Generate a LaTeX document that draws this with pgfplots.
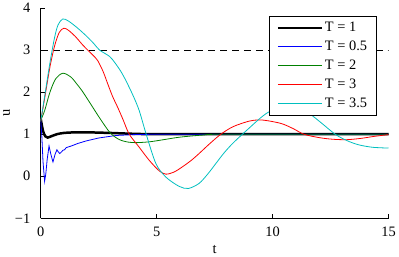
\documentclass[border=0pt]{standalone}
\usepackage{fontspec}
\setmainfont{Liberation Serif}
\usepackage{pgfplots}
\pgfplotsset{compat=1.18}
\definecolor{mgreen}{rgb}{0,0.5,0}
\definecolor{mcyan}{rgb}{0,0.75,0.75}
\begin{document}
\begin{tikzpicture}[font=\fontsize{14.5}{17}\selectfont]
\begin{axis}[
  scale only axis,
  width=349bp, height=211bp,
  xmin=0, xmax=15, ymin=-1, ymax=4,
  axis x line*=bottom, axis y line*=left,
  axis line style={black, line width=0.6bp},
  tick align=inside,
  major tick length=4bp,
  tick style={black, line width=0.6bp},
  xtick={0,5,10,15}, xticklabels={0,5,10,15},
  ytick={-1,0,1,2,3,4}, yticklabels={−1,0,1,2,3,4},
  xticklabel style={yshift=-5bp},
  yticklabel style={xshift=-7bp},
  xlabel={t}, ylabel={u},
  xlabel style={yshift=-2bp},
  ylabel style={yshift=-2bp},
  legend cell align=left,
  legend style={at={(0.965,0.962)}, anchor=north east,
    draw=black, line width=0.6bp, fill=white, inner xsep=7bp, inner ysep=4bp, row sep=4bp,
    font=\fontsize{14.5}{17}\selectfont},
  legend image code/.code={\draw[#1] (0bp,0bp) -- (44bp,0bp);},
  clip=true,
]
\addplot[black, dashed, line width=0.6bp, dash pattern=on 7bp off 5bp, forget plot] coordinates {(0,3) (15,3)};
\addplot[black, line width=2.5bp, smooth] coordinates {
(0,1.37) (0.1,1.08) (0.2,0.95) (0.3,0.92) (0.45,0.95) (0.7,1.0) (1,1.03) (1.5,1.045) (2,1.045) (3,1.03) (4,1.01) (5,1.0) (8,1.0) (15,1.0)};
\addlegendentry{T = 1}
\addplot[blue, line width=0.8bp] coordinates {
(0,1.35) (0.05,0.95) (0.1,0.35) (0.17,-0.12) (0.22,0.05) (0.28,0.4) (0.36,0.72) (0.44,0.52) (0.53,0.34) (0.62,0.52) (0.7,0.63) (0.76,0.58) (0.82,0.54) (0.9,0.58) (0.96,0.62) (1.03,0.63) (1.1,0.68) (1.32,0.72) (1.6,0.78) (1.96,0.84) (2.5,0.91) (3.25,0.97) (4,0.99) (5,1.0) (15,1.0)};
\addlegendentry{T = 0.5}
\addplot[mgreen, line width=0.8bp, smooth] coordinates {
(0,1.33) (0.17,1.56) (0.4,2.0) (0.65,2.32) (0.96,2.45) (1.3,2.36) (1.55,2.2) (1.8,2.02) (2.2,1.68) (2.55,1.38) (3.0,1.03) (3.4,0.87) (3.8,0.81) (4.15,0.8) (4.7,0.82) (5.3,0.87) (6,0.93) (7,0.98) (8,1.0) (15,1.0)};
\addlegendentry{T = 2}
\addplot[red, line width=0.8bp, smooth] coordinates {
(0,1.3) (0.2,1.95) (0.4,2.6) (0.6,3.1) (0.8,3.42) (1.0,3.52) (1.2,3.47) (1.5,3.32) (1.8,3.13) (2.03,3.0) (2.25,2.88) (2.46,2.75) (2.7,2.48) (2.89,2.2) (3.1,1.9) (3.32,1.64) (3.55,1.35) (3.82,1.0) (4.25,0.69) (4.68,0.38) (5.11,0.13) (5.4,0.05) (5.75,0.1) (6.1,0.22) (6.5,0.38) (6.83,0.54) (7.3,0.78) (7.77,1.0) (8.3,1.18) (8.98,1.31) (9.4,1.34) (9.8,1.32) (10.4,1.25) (10.9,1.13) (11.35,1.0) (12,0.92) (12.6,0.88) (13.2,0.87) (13.8,0.9) (14.4,0.95) (15,0.99)};
\addlegendentry{T = 3}
\addplot[mcyan, line width=0.8bp, smooth] coordinates {
(0,1.3) (0.2,2.0) (0.4,2.7) (0.6,3.3) (0.75,3.6) (0.95,3.74) (1.2,3.69) (1.6,3.52) (2.0,3.32) (2.3,3.15) (2.54,3.0) (2.97,2.85) (3.2,2.7) (3.45,2.5) (3.68,2.27) (4.0,1.9) (4.25,1.56) (4.55,1.0) (4.97,0.3) (5.4,-0.02) (5.97,-0.24) (6.37,-0.29) (6.83,-0.17) (7.2,0.05) (7.55,0.3) (7.9,0.55) (8.26,0.77) (8.7,1.0) (9.0,1.15) (9.4,1.35) (9.75,1.5) (10.2,1.63) (10.6,1.67) (11.0,1.64) (11.56,1.5) (12.1,1.27) (12.7,1.0) (13.2,0.85) (13.7,0.75) (14.3,0.69) (15,0.67)};
\addlegendentry{T = 3.5}
\end{axis}
\end{tikzpicture}
\end{document}
